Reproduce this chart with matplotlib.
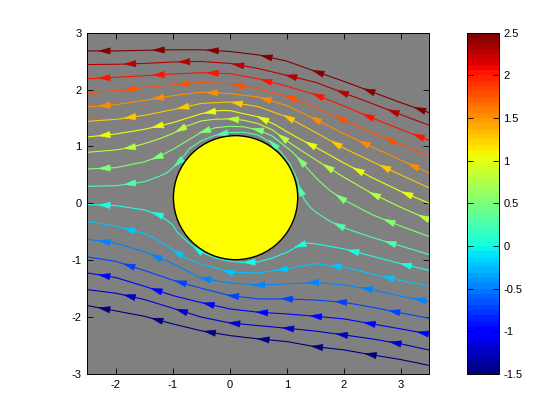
import numpy as np
import matplotlib.pyplot as plt
from matplotlib.patches import Circle, Polygon
from matplotlib.colors import Normalize
from matplotlib.cm import ScalarMappable

plt.rcParams['font.family'] = ['Liberation Sans', 'DejaVu Sans']
plt.rcParams['axes.unicode_minus'] = False

# streamlines, left to right, one list per level
sl_p250 = [(-2.5, 2.68), (-2, 2.68), (-1.5, 2.69), (-1, 2.70), (-0.5, 2.70), (0, 2.67), (0.5, 2.61),
           (1, 2.50), (1.5, 2.32), (2, 2.145), (2.5, 1.957), (3, 1.77), (3.5, 1.594)]
sl_p225 = [(-2.5, 2.44), (-2, 2.445), (-1.5, 2.46), (-1, 2.485), (-0.5, 2.495), (0, 2.46), (0.5, 2.37),
           (1, 2.25), (1.5, 2.13), (2, 1.94), (2.5, 1.753), (3, 1.559), (3.5, 1.372)]
sl_p200 = [(-2.5, 2.19), (-2, 2.215), (-1.5, 2.245), (-1, 2.274), (-0.5, 2.297), (0, 2.28), (0.5, 2.19),
           (1, 2.06), (1.5, 1.91), (2, 1.712), (2.5, 1.5), (3, 1.3), (3.5, 1.108)]
sl_p175 = [(-2.5, 1.946), (-2, 1.981), (-1.5, 2.034), (-1, 2.087), (-0.5, 2.125), (0, 2.104), (0.5, 2.016),
           (1, 1.88), (1.5, 1.69), (2, 1.46), (2.5, 1.237), (3, 1.032), (3.5, 0.838)]
sl_p150 = [(-2.5, 1.694), (-2, 1.735), (-1.5, 1.811), (-1, 1.893), (-0.5, 1.955), (0, 1.93), (0.5, 1.87),
           (1, 1.72), (1.5, 1.48), (2, 1.225), (2.5, 0.99), (3, 0.76), (3.5, 0.53)]
sl_p125 = [(-2.5, 1.442), (-2, 1.477), (-1.5, 1.548), (-1, 1.647), (-0.5, 1.758), (0, 1.782), (0.5, 1.70),
           (1, 1.52), (1.5, 1.25), (2, 0.97), (2.5, 0.733), (3, 0.5), (3.5, 0.27)]
sl_p100 = [(-2.5, 1.167), (-2, 1.22), (-1.5, 1.302), (-1, 1.419), (-0.5, 1.577), (-0.2, 1.63), (0, 1.63),
           (0.5, 1.52), (0.8, 1.38), (1, 1.26), (1.25, 1.12), (1.5, 0.99), (2, 0.71), (2.5, 0.45),
           (3, 0.21), (3.5, 0.0)]
sl_p075 = [(-2.5, 0.897), (-2, 0.94), (-1.75, 0.98), (-1.5, 1.05), (-1.25, 1.13), (-1, 1.23), (-0.75, 1.36),
           (-0.5, 1.45), (-0.25, 1.48), (0, 1.485), (0.25, 1.46), (0.5, 1.40), (0.75, 1.29), (1, 1.1),
           (1.25, 0.93), (1.5, 0.77), (2, 0.46), (2.5, 0.17), (3, -0.07), (3.5, -0.29)]
sl_p050 = [(-2.5, 0.604), (-2, 0.628), (-1.5, 0.73), (-1.25, 0.82), (-1, 0.95), (-0.75, 1.1), (-0.5, 1.25),
           (-0.25, 1.33), (0, 1.355), (0.25, 1.345), (0.5, 1.29), (0.75, 1.18), (0.95, 1.02), (1.1, 0.9),
           (1.25, 0.74), (1.4, 0.57), (1.55, 0.41), (1.75, 0.23), (2, 0.06), (2.5, -0.2), (3, -0.4),
           (3.5, -0.585)]
sl_p025 = [(-2.5, 0.30), (-2, 0.31), (-1.5, 0.38), (-1.25, 0.47), (-1.1, 0.54), (-0.9, 0.72), (-0.7, 0.97),
           (-0.5, 1.1), (-0.25, 1.2), (0, 1.245), (0.25, 1.25), (0.5, 1.2), (0.75, 1.05), (0.9, 0.9),
           (1.05, 0.7), (1.17, 0.45), (1.23, 0.25), (1.3, 0.08), (1.4, -0.06), (1.5, -0.15), (1.75, -0.31),
           (2, -0.43), (2.5, -0.6), (3, -0.75), (3.5, -0.9)]
sl_0 = [(-2.5, -0.02), (-2, -0.04), (-1.5, -0.115), (-1.25, -0.2), (-1.1, -0.3), (-1.0, -0.38), (-0.93, -0.5),
        (-0.75, -0.67), (-0.5, -0.86), (-0.25, -0.96), (0, -1.02), (0.25, -1.04), (0.5, -1.03), (0.75, -0.96),
        (1.0, -0.86), (1.2, -0.75), (1.35, -0.7), (1.5, -0.71), (2, -0.8), (2.5, -0.93), (3, -1.06),
        (3.5, -1.18)]
sl_m025 = [(-2.5, -0.32), (-2, -0.4), (-1.5, -0.53), (-1.25, -0.65), (-1.0, -0.82), (-0.75, -0.97),
           (-0.5, -1.065), (0, -1.21), (0.5, -1.223), (1, -1.15), (1.5, -1.06), (2, -1.123), (2.5, -1.24),
           (3, -1.358), (3.5, -1.45)]
sl_m050 = [(-2.5, -0.63), (-2, -0.7), (-1.5, -0.85), (-1, -1.06), (-0.5, -1.317), (0, -1.399), (0.5, -1.434),
           (1, -1.416), (1.5, -1.39), (2, -1.434), (2.5, -1.516), (3, -1.633), (3.5, -1.727)]
sl_m075 = [(-2.5, -0.94), (-2, -1.02), (-1.5, -1.18), (-1, -1.35), (-0.5, -1.493), (0, -1.621), (0.5, -1.68),
           (1, -1.68), (1.5, -1.70), (2, -1.739), (2.5, -1.826), (3, -1.926), (3.5, -2.02)]
sl_m100 = [(-2.5, -1.223), (-2, -1.305), (-1.5, -1.457), (-1, -1.621), (-0.5, -1.745), (0, -1.856),
           (0.5, -1.914), (1, -1.944), (1.5, -1.985), (2, -2.031), (2.5, -2.12), (3, -2.207), (3.5, -2.3)]
sl_m125 = [(-2.5, -1.516), (-2, -1.58), (-1.5, -1.69), (-1, -1.844), (-0.5, -2.0), (0, -2.102), (0.5, -2.149),
           (1, -2.196), (1.5, -2.245), (2, -2.313), (2.5, -2.383), (3, -2.47), (3.5, -2.58)]
sl_m150 = [(-2.5, -1.797), (-2, -1.891), (-1.5, -1.985), (-1, -2.12), (-0.5, -2.24), (0, -2.324),
           (0.5, -2.383), (1, -2.43), (1.5, -2.52), (2, -2.576), (2.5, -2.664), (3, -2.746), (3.5, -2.85)]

levels = [2.5, 2.25, 2.0, 1.75, 1.5, 1.25, 1.0, 0.75, 0.5, 0.25, 0.0, -0.25, -0.5, -0.75, -1.0, -1.25, -1.5]
streamlines = [sl_p250, sl_p225, sl_p200, sl_p175, sl_p150, sl_p125, sl_p100, sl_p075, sl_p050,
               sl_p025, sl_0, sl_m025, sl_m050, sl_m075, sl_m100, sl_m125, sl_m150]

cyl_center = (0.1, 0.1)
cyl_radius = 1.09
clim = (-1.5, 2.5)
cbar_ticks = [-1.5, -1, -0.5, 0, 0.5, 1, 1.5, 2, 2.5]


def add_arrows(ax, pts, color, spacing, offset):
    pts = np.asarray(pts, dtype=float)
    seg = np.diff(pts, axis=0)
    seglen = np.hypot(seg[:, 0], seg[:, 1])
    cum = np.concatenate([[0], np.cumsum(seglen)])
    s = offset
    while s < cum[-1] - 0.1:
        i = min(max(np.searchsorted(cum, s) - 1, 0), len(seg) - 1)
        p = pts[i] + (s - cum[i]) / seglen[i] * seg[i]
        d = -seg[i] / seglen[i]          # flow goes right to left
        n = np.array([-d[1], d[0]])
        tip = p + d * 0.1
        base = p - d * 0.1
        tri = [tip, base + n * 0.055, base - n * 0.055]
        ax.add_patch(Polygon(tri, closed=True, fc=color, ec=color, lw=0.4, zorder=3))
        s += spacing


fig = plt.figure(figsize=(5.6, 4.2), dpi=100)
ax = fig.add_axes([0.156, 0.1095, 0.6107, 0.8126])
ax.set_facecolor((0.5, 0.5, 0.5))

cmap = plt.get_cmap('jet', 64)
norm = Normalize(*clim)

for k, (lev, pts) in enumerate(zip(levels, streamlines)):
    c = cmap(norm(lev))
    xy = np.array(pts)
    ax.plot(xy[:, 0], xy[:, 1], color=c, lw=0.8, zorder=2)
    add_arrows(ax, pts, c, spacing=0.95, offset=0.3 + 0.45 * (k % 2))

ax.add_patch(Circle(cyl_center, cyl_radius, fc='yellow', ec='black', lw=1.0, zorder=4))

ax.set_xlim(-2.5, 3.5)
ax.set_ylim(-3, 3)
ax.set_xticks(range(-2, 4))
ax.set_yticks(range(-3, 4))
ax.tick_params(direction='in', top=True, right=True, length=4, width=0.6, labelsize=8, pad=4)
for sp in ax.spines.values():
    sp.set_linewidth(0.7)

cax = fig.add_axes([0.8334, 0.1095, 0.0584, 0.8126])
cb = fig.colorbar(ScalarMappable(norm=norm, cmap=cmap), cax=cax, ticks=cbar_ticks)
cb.ax.set_yticklabels(['%g' % t for t in cbar_ticks])
cb.ax.tick_params(direction='in', left=True, right=True, length=4, width=0.6, labelsize=8, pad=3)
cb.outline.set_linewidth(0.7)

fig.savefig('out.png', dpi=100)
